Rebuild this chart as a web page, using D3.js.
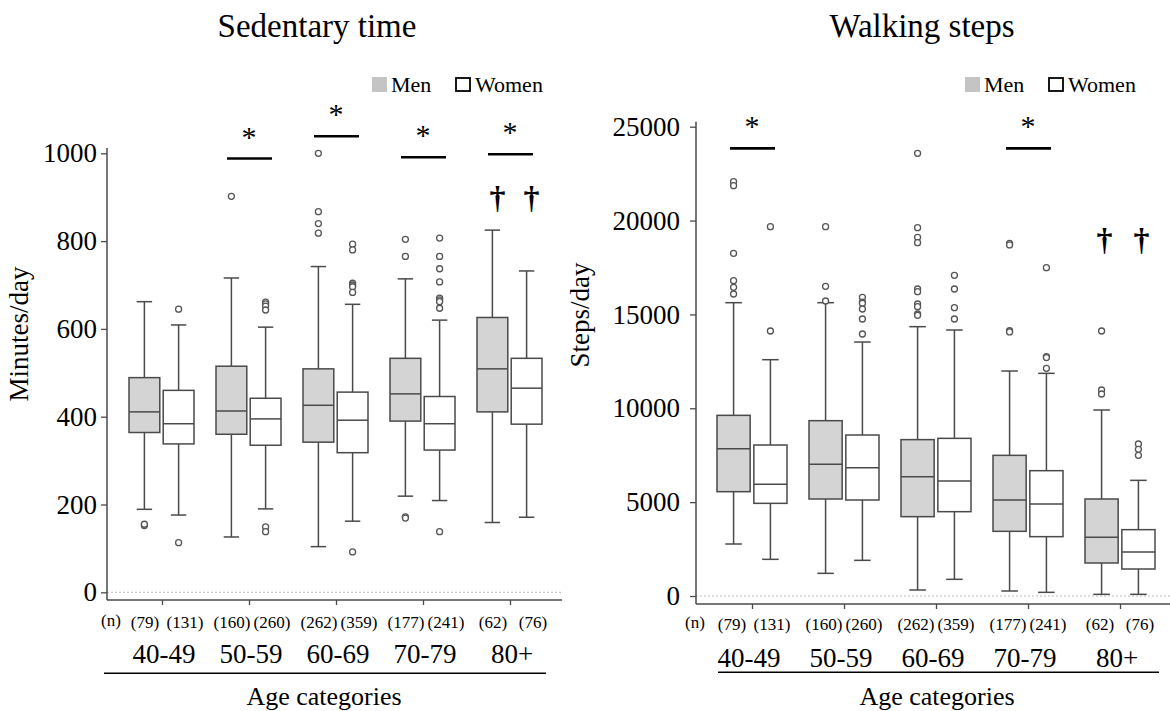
<!DOCTYPE html>
<html><head><meta charset="utf-8">
<script src="https://cdn.jsdelivr.net/npm/d3@7"></script>
<style>body{margin:0;background:#fff}svg{display:block}text{font-family:"Liberation Serif","Times New Roman",serif;fill:#000}</style>
</head><body><svg id="c" width="1170" height="711"></svg>
<script>
// ---- data ----
const ageCats = ["40-49","50-59","60-69","70-79","80+"];
const sexes = ["Men","Women"];
const nMen = [79,160,262,177,62];
const nWomen = [131,260,359,241,76];
// [lower whisker, Q1, median, Q3, upper whisker]
const sedMen = [[189,364,411,489,662],[126,360,413,515,716],[104,342,426,509,742],[219,390,452,533,714],[159,411,509,626,825]];
const sedWomen = [[176,338,384,460,609],[190,335,395,442,604],[162,318,392,456,656],[209,324,384,446,620],[171,383,465,533,732]];
const sedMenOut = [[152,155],[902],[1000,867,840,818],[804,765,172,169],[]];
const sedWomenOut = [[645,113],[661,657,652,643,149,138],[793,780,704,700,696,683,92],[807,765,737,707,670,666,662,647,138],[]];
const stepMen = [[2770,5557,7848,9624,15625],[1207,5167,7013,9340,15625],[320,4226,6357,8330,14347],[266,3445,5114,7493,11985],[89,1758,3125,5167,9908]];
const stepWomen = [[1953,4936,5948,8043,12588],[1900,5114,6836,8576,13530],[888,4492,6126,8398,14169],[195,3161,4901,6676,11861],[89,1438,2344,3534,6161]];
const stepMenOut = [[22070,21857,18254,16797,16442,16087],[19673,16495,15714],[23582,19620,19106,18822,16354,16212,15554,15412,15022,14950],[18780,18700,14130,14070],[14116,10973,10760]];
const stepWomenOut = [[19673,14116],[15909,15660,15590,15288,14755,13956],[17082,16354,15359,14755],[17488,12748,12700,12128],[8097,7813,7493]];
const sedTicks = [0,200,400,600,800,1000];
const stepTicks = [0,5000,10000,15000,20000,25000];
// significance: category, bar level (data units)
const sedSigCats = ["50-59","60-69","70-79","80+"];
const sedSigLevels = [988,1039,991,998];
const sedDaggerCats = ["80+"];
const sedDaggerLevel = 875;
const stepSigCats = ["40-49","70-79"];
const stepSigLevels = [23848,23848];
const stepDaggerCats = ["80+"];
const stepDaggerLevel = 18450;

// ---- drawing ----
const svg = d3.select("#c");
const FONT = '"Liberation Serif","Times New Roman",serif';
const BOXSTROKE = "#4a4a4a";

function panel(o){
  const g = svg.append("g");
  const x = d3.scalePoint().domain(ageCats).range(o.xRange);
  const sx = d3.scaleBand().domain(sexes).range(o.sexRange).paddingInner(0.1);
  const y = d3.scaleLinear().domain(o.domain).range(o.yRange);
  const bw = sx.bandwidth();

  // title
  g.append("text").attr("x",o.titleX).attr("y",37).attr("text-anchor","middle")
    .style("font-size","33px").text(o.title);
  // legend
  const lg = g.append("g").attr("transform",`translate(${o.legendX},77)`);
  lg.append("rect").attr("x",0).attr("y",0).attr("width",15).attr("height",15).attr("fill","#c4c4c4");
  lg.append("text").attr("x",19).attr("y",15).style("font-size","22px").text("Men");
  lg.append("rect").attr("x",84).attr("y",1).attr("width",14).attr("height",13).attr("fill","#fff").attr("stroke","#000").attr("stroke-width",1.8);
  lg.append("text").attr("x",103).attr("y",15).style("font-size","22px").text("Women");

  // zero dotted line
  g.append("line").attr("x1",o.axisX).attr("x2",o.xEnd).attr("y1",y(0)).attr("y2",y(0))
    .attr("stroke","#bbb").attr("stroke-dasharray","2,2").attr("stroke-width",1);

  // y axis
  const ya = g.append("g").attr("transform",`translate(${o.axisX},0)`)
    .call(d3.axisLeft(y).tickValues(o.ticks).tickFormat(d3.format("d")).tickSize(6).tickPadding(o.tickPad).tickSizeOuter(0));
  ya.select(".domain").remove();
  ya.selectAll(".tick line").attr("stroke",BOXSTROKE).attr("stroke-width",1.3);
  ya.selectAll(".tick text").style("font-size",o.tickFont).style("font-family",FONT).attr("fill","#000");
  g.append("line").attr("x1",o.axisX).attr("x2",o.axisX).attr("y1",o.axisTop).attr("y2",o.baseY)
    .attr("stroke",BOXSTROKE).attr("stroke-width",1.5);
  // x axis
  const xa = g.append("g").attr("transform",`translate(0,${o.baseY})`)
    .call(d3.axisBottom(x).tickSize(5).tickFormat(""));
  xa.select(".domain").remove();
  xa.selectAll(".tick line").attr("stroke",BOXSTROKE).attr("stroke-width",1.3);
  g.append("line").attr("x1",o.axisX).attr("x2",o.xEnd).attr("y1",o.baseY).attr("y2",o.baseY)
    .attr("stroke",BOXSTROKE).attr("stroke-width",1.5);

  // y label
  g.append("text").attr("transform",`translate(${o.ylabX},${o.ylabY}) rotate(-90)`)
    .attr("text-anchor","middle").style("font-size","27px").text(o.ylabel);

  // boxes
  const rows = [];
  ageCats.forEach((c,i)=>{
    rows.push({cat:c,sex:"Men",s:o.men[i],out:o.menOut[i],n:nMen[i]});
    rows.push({cat:c,sex:"Women",s:o.women[i],out:o.womenOut[i],n:nWomen[i]});
  });
  const bg = g.selectAll("g.box").data(rows).join("g").attr("class","box")
    .attr("transform",d=>`translate(${x(d.cat)+sx(d.sex)},0)`);
  const cx = bw/2;
  bg.append("line").attr("x1",cx).attr("x2",cx).attr("y1",d=>y(d.s[0])).attr("y2",d=>y(d.s[1]));
  bg.append("line").attr("x1",cx).attr("x2",cx).attr("y1",d=>y(d.s[3])).attr("y2",d=>y(d.s[4]));
  bg.append("line").attr("x1",cx-bw/4).attr("x2",cx+bw/4).attr("y1",d=>y(d.s[0])).attr("y2",d=>y(d.s[0]));
  bg.append("line").attr("x1",cx-bw/4).attr("x2",cx+bw/4).attr("y1",d=>y(d.s[4])).attr("y2",d=>y(d.s[4]));
  bg.append("rect").attr("x",0).attr("width",bw).attr("y",d=>y(d.s[3])).attr("height",d=>y(d.s[1])-y(d.s[3]))
    .attr("fill",d=>d.sex==="Men"?"#d4d4d4":"#fff");
  bg.append("line").attr("x1",0).attr("x2",bw).attr("y1",d=>y(d.s[2])).attr("y2",d=>y(d.s[2]));
  bg.selectAll("line,rect").attr("stroke",BOXSTROKE).attr("stroke-width",1.5);
  bg.selectAll("circle").data(d=>d.out).join("circle").attr("cx",cx).attr("cy",v=>y(v)).attr("r",3)
    .attr("fill","#fff").attr("stroke","#555").attr("stroke-width",1.3);

  // n labels
  g.append("text").attr("x",o.axisX+o.nOff).attr("y",o.nY-2).attr("text-anchor","middle").style("font-size","17px").text("(n)");
  g.selectAll("text.n").data(rows).join("text").attr("class","n")
    .attr("x",d=>x(d.cat)+(d.sex==="Men"?o.nMenOff:o.nWomenOff)).attr("y",o.nY)
    .attr("text-anchor","middle").style("font-size","17px").text(d=>`(${d.n})`);
  // age labels
  g.selectAll("text.age").data(ageCats).join("text").attr("class","age")
    .attr("x",d=>x(d)+o.ageOff).attr("y",o.ageY).attr("text-anchor","middle").style("font-size","27px").text(d=>d);
  g.append("line").attr("x1",o.ulX[0]).attr("x2",o.ulX[1]).attr("y1",o.ulY).attr("y2",o.ulY).attr("stroke","#000").attr("stroke-width",1.5);
  g.append("text").attr("x",o.agX).attr("y",705).attr("text-anchor","middle").style("font-size","26px").text("Age categories");

  // significance bars
  o.sigCats.forEach((c,i)=>{
    const yy = y(o.sigLevels[i]), xc = x(c);
    g.append("line").attr("x1",xc-22).attr("x2",xc+23).attr("y1",yy).attr("y2",yy).attr("stroke","#000").attr("stroke-width",2.6);
    g.append("text").attr("x",xc).attr("y",yy-12).attr("text-anchor","middle").style("font-size","30px").text("*");
  });
  o.dagCats.forEach(c=>{
    sexes.forEach(s=>{
      g.append("text").attr("x",x(c)+sx(s)+cx+o.dagOff).attr("y",y(o.dagLevel)).attr("text-anchor","middle")
        .style("font-size","32px").style("font-weight","bold").text("\u2020");
    });
  });
}

panel({
  title:"Sedentary time", titleX:317, legendX:372,
  xRange:[162,510], sexRange:[-33,32], domain:[0,1000], yRange:[592.3,153.3],
  axisX:107, axisTop:148, baseY:600, xEnd:562, ticks:sedTicks, tickPad:4, tickFont:"27px",
  ylabel:"Minutes/day", ylabX:28, ylabY:334,
  men:sedMen, women:sedWomen, menOut:sedMenOut, womenOut:sedWomenOut,
  nOff:4, nY:628, nMenOff:-17, nWomenOff:23, ageOff:2, ageY:663, ulX:[104,546], ulY:673.3, agX:324,
  sigCats:sedSigCats, sigLevels:sedSigLevels, dagCats:sedDaggerCats, dagLevel:sedDaggerLevel, dagOff:5
});
panel({
  title:"Walking steps", titleX:922, legendX:965,
  xRange:[752,1120], sexRange:[-35,35], domain:[0,25000], yRange:[596,126.7],
  axisX:696, axisTop:121.7, baseY:604, xEnd:1170, ticks:stepTicks, tickPad:10, tickFont:"27px",
  ylabel:"Steps/day", ylabX:589, ylabY:315,
  men:stepMen, women:stepWomen, menOut:stepMenOut, womenOut:stepWomenOut,
  nOff:-1, nY:630, nMenOff:-20, nWomenOff:20, ageOff:-3, ageY:667, ulX:[718,1159], ulY:672.3, agX:937,
  sigCats:stepSigCats, sigLevels:stepSigLevels, dagCats:stepDaggerCats, dagLevel:stepDaggerLevel, dagOff:3
});
</script></body></html>
